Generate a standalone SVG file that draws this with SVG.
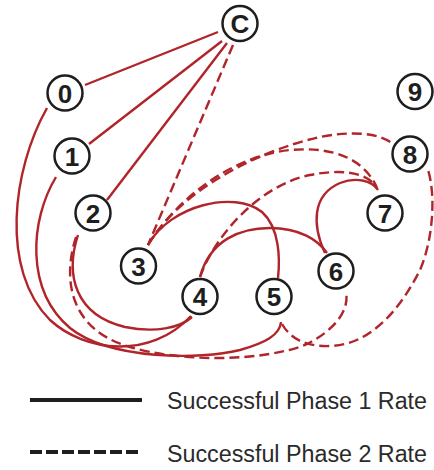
<svg xmlns="http://www.w3.org/2000/svg" width="434" height="470" viewBox="0 0 434 470">
<style>
.e{fill:none;stroke:#b0242a;stroke-width:2.4;stroke-linecap:butt}
.d{stroke-dasharray:10 5}
.n circle{fill:#fff;stroke:#1e1e1e;stroke-width:2.5}
.n text{font-family:"Liberation Sans",Arial,sans-serif;font-weight:bold;font-size:26px;fill:#1e1e1e;text-anchor:middle}
.lg{font-family:"Liberation Sans",Arial,sans-serif;font-size:23px;fill:#2a2a2a}
</style>
<rect width="434" height="470" fill="#fff"/>
<g id="connectors">
<path class="e" d="M218,32 L85,85"/>
<path class="e" d="M222,41 L89,144"/>
<path class="e" d="M227,43 L107,200"/>
<path class="e d" d="M233,45 L148,245"/>
<path class="e" d="M47,108 C12,170 0,270 50,320 C85,352 150,360 191,316"/>
<path class="e" d="M56,177 C30,220 25,290 70,328 C110,360 200,360 240,350 C265,343 280,335 281,322"/>
<path class="e" d="M78,235 C65,275 75,315 125,327 C155,333 180,328 192,317"/>
<path class="e" d="M148,245 C170,205 235,190 262,212 C280,228 280,260 278,278"/>
<path class="e" d="M200,277 C210,240 240,228 270,228 C300,228 318,240 327,253"/>
<path class="e" d="M325,253 C312,225 312,195 340,183 C355,177 372,180 378,190"/>
<path class="e d" d="M148,245 C180,190 260,150 320,137 C350,131 380,132 394,145"/>
<path class="e d" d="M148,245 C183,190 240,155 290,150 C335,146 365,160 377,188"/>
<path class="e d" d="M200,277 C215,235 260,185 310,175 C340,169 365,172 375,185"/>
<path class="e d" d="M76,237 C62,280 70,330 130,347 C180,362 260,362 305,345 C332,332 350,312 346,292"/>
<path class="e d" d="M282,324 C290,338 305,347 330,346 C370,345 400,310 420,270 C433,240 436,195 428,170"/>
</g>
<g id="node-C" class="n"><circle cx="240" cy="23.5" r="17.5"/><text x="240" y="33">C</text></g>
<g id="node-0" class="n"><circle cx="65" cy="93" r="17.5"/><text x="65" y="102.5">0</text></g>
<g id="node-1" class="n"><circle cx="72" cy="156" r="17.5"/><text x="72" y="165.5">1</text></g>
<g id="node-2" class="n"><circle cx="93" cy="213" r="17.5"/><text x="93" y="222.5">2</text></g>
<g id="node-3" class="n"><circle cx="138.5" cy="266" r="17.5"/><text x="138.5" y="275.5">3</text></g>
<g id="node-4" class="n"><circle cx="200" cy="296.5" r="17.5"/><text x="200" y="306">4</text></g>
<g id="node-5" class="n"><circle cx="274" cy="296.5" r="17.5"/><text x="274" y="306">5</text></g>
<g id="node-6" class="n"><circle cx="336" cy="271" r="17.5"/><text x="336" y="280.5">6</text></g>
<g id="node-7" class="n"><circle cx="385" cy="213" r="17.5"/><text x="385" y="222.5">7</text></g>
<g id="node-8" class="n"><circle cx="410" cy="154" r="17.5"/><text x="410" y="163.5">8</text></g>
<g id="node-9" class="n"><circle cx="415" cy="91.5" r="17.5"/><text x="415" y="101">9</text></g>
<g id="legend">
<line x1="30" y1="400" x2="142" y2="400" stroke="#1e1e1e" stroke-width="4"/>
<line x1="30" y1="452" x2="142" y2="452" stroke="#1e1e1e" stroke-width="4" stroke-dasharray="12 4"/>
<text class="lg" x="167" y="409" textLength="260" lengthAdjust="spacingAndGlyphs">Successful Phase 1 Rate</text>
<text class="lg" x="167" y="461.5" textLength="260" lengthAdjust="spacingAndGlyphs">Successful Phase 2 Rate</text>
</g>
</svg>
